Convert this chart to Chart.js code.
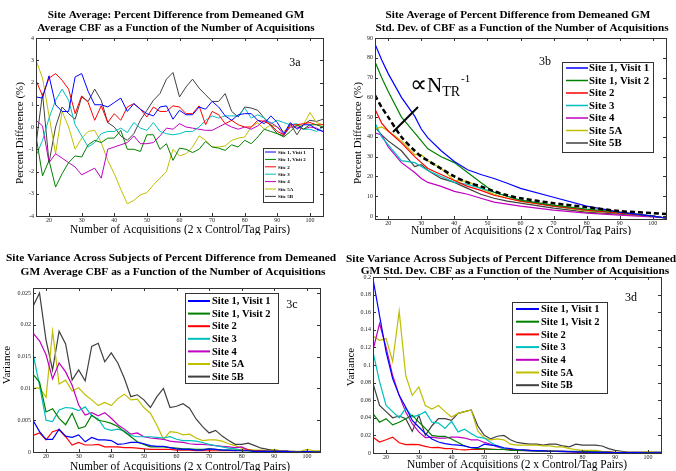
<!DOCTYPE html>
<html>
<head>
<meta charset="utf-8">
<script src="https://cdn.jsdelivr.net/npm/chart.js@4.4.1/dist/chart.umd.min.js"></script>
<style>
  body { margin: 0; background: #fff; }
  #wrap { position: relative; width: 676px; height: 471px; overflow: hidden; }
  canvas { position: absolute; }
</style>
</head>
<body>
<div id="wrap">
  <canvas id="c3a" width="338" height="235" style="left:0;top:0"></canvas>
  <canvas id="c3b" width="338" height="235" style="left:338px;top:0"></canvas>
  <canvas id="c3c" width="338" height="236" style="left:0;top:235px"></canvas>
  <canvas id="c3d" width="338" height="236" style="left:338px;top:235px"></canvas>
</div>
<script>
// number of acquisitions (x axis), shared by 3a, 3c, 3d
const acq = [16,18,20,22,24,26,28,30,32,34,36,38,40,42,44,46,48,50,52,54,56,58,60,62,64,66,68,70,72,74,76,78,80,82,84,86,88,90,92,94,96,98,100,102,104];
const xTicks = [20,30,40,50,60,70,80,90,100];

const sites = ['Site 1, Visit 1', 'Site 1, Visit 2', 'Site 2', 'Site 3', 'Site 4', 'Site 5A', 'Site 5B'];
const siteColors = ['#0000ff', '#008000', '#ff0000', '#00bfbf', '#bf00bf', '#bfbf00', '#404040'];

// 3a - site average, percent difference (%)
const avgV1 = [1.35,1.3,2.3,1.0,0.7,0.7,2.25,2.4,1.6,1.0, 1.0,0.9,1.1,1.3,0.7,1.05,0.8,0.6,0.5,0.9, 0.95,0.35,0.75,0.55,0.55,0.9,0.8,1.15,0.9,0.5, 0.3,0.55,0.6,0.6,0.3,0.15,0.5,0.2,-0.3,0.2, -0.1,0.1,0.1,-0.1,-0.2];
const avgV2 = [-0.4,-2.2,-1.5,-2.7,-2.1,-1.6,-1.3,-1.35,-0.8,-0.6, -0.7,-0.5,-0.5,-0.15,-1.0,-1.0,-1.1,-0.35,-0.35,-1.0, -0.75,-1.5,-0.95,-1.0,-1.15,-1.0,-0.65,-0.9,-0.95,-1.05, -0.8,-0.9,-0.6,-0.75,-0.45,-0.1,-0.2,-0.3,-0.45,-0.2, 0.1,-0.1,0.1,0.1,0.0];
const avgS2 = [2.1,1.4,2.2,2.4,2.1,1.7,0.6,1.4,1.1,0.3, 0.95,0.2,0.6,0.3,0.9,1.05,0.8,0.45,0.9,0.7, 0.7,0.95,0.9,0.6,0.6,0.95,0.1,0.7,0.55,0.15, 0.3,0.1,0.0,0.0,0.3,0.25,0.1,-0.2,-0.35,0.1, 0.1,0.15,0.2,0.1,0.1];
const avgS3 = [-1.3,-0.6,0.4,1.2,1.7,1.2,0.1,-0.4,-0.9,-0.7, -0.3,-0.2,-0.2,-0.05,-0.25,0.2,-0.05,-0.15,0.2,-0.2, -0.3,-0.35,-0.3,-0.2,-0.2,0.0,0.3,0.5,0.4,0.5, 0.5,0.5,0.85,0.4,0.55,0.4,0.15,0.3,0.2,0.1, 0.15,-0.1,-0.1,-0.2,0.0];
const avgS4 = [0.3,0.05,-1.6,-1.2,-1.4,-1.6,-1.8,-2.15,-2.0,-1.85, -2.3,-1.0,-0.9,-0.8,-0.7,-0.4,-0.75,-0.75,-0.7,-0.4, -0.05,-0.1,0.15,0.0,-0.05,-0.1,-0.15,-0.15,0.0,0.15, 0.0,-0.1,0.0,-0.1,0.05,0.3,0.2,0.0,-0.35,0.0, 0.0,-0.1,0.0,-0.05,-0.2];
const avgS5A = [3.0,2.2,0.5,-1.2,0.7,0.0,-1.0,-0.5,-0.2,-0.15, -0.7,-1.5,-2.1,-2.8,-3.45,-3.3,-3.05,-2.95,-2.6,-2.3, -2.0,-1.0,-1.3,-1.2,-0.9,-0.4,-0.6,-0.9,-0.9,-0.85, -0.6,-0.5,-0.45,0.0,0.2,-0.1,0.1,0.0,-0.2,0.0, 0.05,0.1,0.65,0.2,0.1];
const avgS5B = [-0.8,1.5,-1.6,0.0,0.9,0.6,0.35,1.35,1.15,1.7, 1.2,0.2,0.0,-0.4,-0.6,-0.3,0.3,0.75,1.2,1.5, 2.15,2.45,1.35,1.8,2.15,1.75,1.45,1.15,1.15,1.5, 0.7,0.45,0.9,0.85,0.75,0.4,0.05,-0.3,-0.4,0.15, -0.35,0.1,0.3,0.25,0.35];
const avgTicks = [-4,-3,-2,-1,0,1,2,3,4];

// 3b - site average of std. dev. percent difference (%)
const sdX = [16,18,20,24,28,30,32,36,40,44,48,52,56,60,70,80,90,100,104];
const sdV1 = [87,79,72,60,50.5,44,39.5,33,27.6,23.4,21,19,16.6,14,9.5,5,2,0,-1];
const sdV2 = [78,70,63,50,42,38,34,30,27,22,17,12,10,8,5.5,3.5,2,0,-1];
const sdS2 = [54,47,43,37,30,27,24,21,18,15,13,10.5,9,7.5,5,3,1.5,0,-1];
const sdS3 = [47,40,36,28,27,25,23,20,17,16,14,12,10,8,5,3,1.5,0,-1];
const sdS4 = [42,41,35,27,22,19,17,15,12.5,11,9,7,6,5,3,1.5,0.5,-0.5,-1];
const sdS5A = [44,45,43,38,31,31,28,24,18,17.5,14,11,9,7.5,5,2.5,1.5,0,-1];
const sdS5B = [45,41,38,33,25,26,23,19,17,14,11,9,7.5,6.5,4,2,1,0,-1];
const sdFit = [61,55,50,40,33,30,28,24,20,17,15,12.5,10.5,9,6.5,4.5,2.5,1.5,1];
const sdTicks = [0,10,20,30,40,50,60,70,80,90];

// 3c - variance across subjects, average CBF
const varAvgV1 = [0.005,0.0032,0.002,0.002,0.0036,0.0025,0.0023,0.0027,0.0016,0.0023, 0.0019,0.0019,0.0018,0.0012,0.0013,0.0015,0.0015,0.0013,0.001,0.0009, 0.0009,0.0007,0.0005,0.0004,0.0004,0.0003,0.0003,0.0005,0.0004,0.0003, 0.0003,0.0002,0.0002,0.0002,0.0001,0.0001,0.0001,0.0001,0.0001,0.0001, 0,0,0.0001,0,0];
const varAvgV2 = [0.0122,0.011,0.0063,0.0068,0.0053,0.0043,0.0061,0.0037,0.004,0.0058, 0.005,0.0048,0.0045,0.004,0.0032,0.0024,0.0016,0.0012,0.0008,0.0008, 0.0008,0.0007,0.0006,0.0005,0.0005,0.0004,0.0004,0.0005,0.0004,0.0003, 0.0003,0.0003,0.0002,0.0002,0.0001,0.0001,0.0001,0.0001,0.0001,0.0001, 0,0,0.0001,0,0];
const varAvgS2 = [0.0026,0.003,0.0019,0.0032,0.0035,0.0024,0.0011,0.0015,0.0011,0.0011, 0.0012,0.0008,0.0008,0.0008,0.0007,0.0007,0.0006,0.0005,0.0004,0.0004, 0.0004,0.0004,0.0003,0.0003,0.0003,0.0002,0.0002,0.0002,0.0002,0.0002, 0.0002,0.0002,0.0003,0.0003,0.0002,0.0002,0.0001,0.0001,0.0001,0.0001, 0,0,0,0,0];
const varAvgS3 = [0.0155,0.0105,0.005,0.0048,0.0066,0.007,0.0069,0.0065,0.0071,0.0057, 0.0052,0.0037,0.0034,0.0036,0.0033,0.0026,0.0024,0.0024,0.0024,0.0023, 0.0022,0.0024,0.002,0.0018,0.0018,0.0017,0.0015,0.0012,0.001,0.0008, 0.0006,0.0005,0.0003,0.0002,0.0002,0.0001,0.0001,0.0001,0.0001,0, 0,0,0,0,0];
const varAvgS4 = [0.0187,0.0175,0.0153,0.0115,0.014,0.0126,0.0105,0.0074,0.0058,0.0062, 0.0057,0.0062,0.0053,0.0043,0.0036,0.0028,0.003,0.0024,0.0022,0.0021, 0.002,0.0017,0.0016,0.0015,0.0013,0.0012,0.0012,0.0011,0.001,0.0009, 0.0008,0.0007,0.0008,0.0003,0.0002,0.0001,0.0001,0.0001,0.0001,0.0001, 0,0,0,0,0];
const varAvgS5A = [0.01,0.0101,0.0086,0.019,0.0107,0.0113,0.0096,0.0101,0.009,0.0082, 0.0073,0.0078,0.0073,0.0084,0.0091,0.0082,0.0083,0.007,0.0061,0.0042, 0.002,0.0032,0.0031,0.0027,0.0028,0.0022,0.0018,0.0019,0.0019,0.0017, 0.0013,0.001,0.0006,0.0004,0.0003,0.0003,0.0002,0.0004,0.0002,0.0001, 0.0001,0.0001,0.0004,0.0002,0.0002];
const varAvgS5B = [0.0229,0.025,0.0176,0.0129,0.019,0.017,0.0113,0.0129,0.0112,0.0166, 0.0171,0.0142,0.0156,0.014,0.0116,0.0087,0.009,0.0082,0.007,0.0087, 0.01,0.007,0.0072,0.0076,0.0069,0.0052,0.004,0.003,0.0034,0.0025, 0.0018,0.0012,0.0012,0.0014,0.001,0.0006,0.0004,0.0003,0.0001,0.0001, 0.0001,0,0,0,0];
const varAvgTicks = [0,0.005,0.01,0.015,0.02,0.025];

// 3d - variance across subjects, std. dev. CBF
const varSdV1 = [0.198,0.156,0.115,0.0845,0.0655,0.052,0.037,0.0295,0.022,0.016, 0.0125,0.0106,0.0095,0.009,0.008,0.006,0.006,0.01,0.009,0.008, 0.006,0.005,0.004,0.0035,0.003,0.0028,0.0025,0.002,0.002,0.0018, 0.0015,0.0012,0.001,0.001,0.0008,0.0007,0.0006,0.0005,0.0005,0.0004, 0.0004,0.0003,0.0003,0.0003,0.0002];
const varSdV2 = [0.0447,0.035,0.039,0.032,0.035,0.039,0.043,0.035,0.028,0.02, 0.019,0.019,0.016,0.012,0.008,0.006,0.005,0.005,0.004,0.004, 0.004,0.003,0.003,0.003,0.0028,0.0025,0.0025,0.0022,0.002,0.002, 0.002,0.002,0.002,0.0015,0.0012,0.001,0.0008,0.0005,0.0004,0.0003, 0.0003,0.0002,0.0002,0.0002,0.0002];
const varSdS2 = [0.018,0.0125,0.015,0.018,0.0117,0.0095,0.0098,0.0095,0.0076,0.006, 0.0064,0.005,0.005,0.004,0.0035,0.004,0.004,0.0045,0.0045,0.004, 0.004,0.004,0.0035,0.003,0.003,0.0028,0.0025,0.002,0.002,0.0018, 0.0015,0.0012,0.001,0.001,0.0008,0.0007,0.0006,0.0005,0.0005,0.0004, 0.0004,0.0003,0.0003,0.0003,0.0003];
const varSdS3 = [0.115,0.081,0.054,0.047,0.04,0.051,0.041,0.043,0.047,0.035, 0.034,0.028,0.036,0.024,0.027,0.022,0.018,0.017,0.012,0.008, 0.005,0.004,0.003,0.003,0.0028,0.0025,0.0022,0.002,0.0018,0.0016, 0.0014,0.0012,0.001,0.0009,0.0008,0.0006,0.0005,0.0004,0.0003,0.0003, 0.0002,0.0002,0.0002,0.0002,0.0002];
const varSdS4 = [0.117,0.147,0.12,0.088,0.0655,0.0466,0.0333,0.024,0.0174,0.018, 0.017,0.017,0.018,0.018,0.017,0.015,0.015,0.012,0.01,0.007, 0.005,0.004,0.003,0.0028,0.0025,0.0022,0.002,0.002,0.0018,0.0016, 0.0014,0.0012,0.001,0.0009,0.0008,0.0007,0.0006,0.0005,0.0004,0.0004, 0.0003,0.0003,0.0003,0.0002,0.0002];
const varSdS5A = [0.133,0.128,0.13,0.104,0.161,0.088,0.0655,0.075,0.054,0.05, 0.054,0.047,0.041,0.045,0.047,0.049,0.025,0.017,0.015,0.016, 0.015,0.01,0.009,0.009,0.009,0.009,0.008,0.008,0.007,0.007, 0.005,0.004,0.003,0.003,0.003,0.002,0.0015,0.001,0.0008,0.0006, 0.0005,0.0005,0.0015,0.0008,0.0005];
const varSdS5B = [0.079,0.054,0.047,0.04,0.042,0.039,0.0246,0.043,0.02,0.031, 0.039,0.039,0.037,0.045,0.047,0.049,0.031,0.02,0.016,0.019, 0.02,0.015,0.012,0.011,0.01,0.01,0.009,0.01,0.01,0.008, 0.007,0.01,0.009,0.009,0.009,0.008,0.005,0.003,0.002,0.001, 0.001,0.001,0.001,0.001,0.001];
const varSdTicks = [0,0.02,0.04,0.06,0.08,0.1,0.12,0.14,0.16,0.18,0.2];

const serif = "'Liberation Serif', 'Times New Roman', serif";
const xLabelText = 'Number of Acquisitions (2 x Control/Tag Pairs)';

function pts(xs, ys) {
    return xs.map((x, i) => ({x: x, y: ys[i]}));
}

function siteSets(xs, series, width) {
    return series.map((ys, i) => ({
        label: sites[i],
        data: pts(xs, ys),
        borderColor: siteColors[i],
        borderWidth: width,
        pointRadius: 0,
        tension: 0,
        order: 1
    }));
}

// frame, inward ticks, titles, legend (matlab look)
function makeDeco(p) {
    return {
        id: 'deco',
        afterDraw(chart) {
            const ctx = chart.ctx;
            const a = chart.chartArea;
            const sx = chart.scales.x, sy = chart.scales.y;
            ctx.save();
            ctx.strokeStyle = '#333';
            ctx.lineWidth = 1;
            ctx.strokeRect(Math.round(a.left) + 0.5, Math.round(a.top) + 0.5, Math.round(a.width), Math.round(a.height));
            ctx.beginPath();
            sx.ticks.forEach(t => {
                const px = Math.round(sx.getPixelForValue(t.value)) + 0.5;
                ctx.moveTo(px, a.bottom); ctx.lineTo(px, a.bottom - 3);
                ctx.moveTo(px, a.top); ctx.lineTo(px, a.top + 3);
            });
            sy.ticks.forEach(t => {
                const py = Math.round(sy.getPixelForValue(t.value)) + 0.5;
                ctx.moveTo(a.left, py); ctx.lineTo(a.left + 3, py);
                ctx.moveTo(a.right, py); ctx.lineTo(a.right - 3, py);
            });
            ctx.stroke();

            ctx.fillStyle = '#000';
            ctx.textAlign = 'center';
            ctx.textBaseline = 'middle';
            ctx.font = 'bold ' + p.titleSize + 'px ' + serif;
            p.title.forEach((s, i) => ctx.fillText(s, p.titleX[i], p.titleY[i]));

            ctx.font = p.xLabelSize + 'px ' + serif;
            ctx.fillText(xLabelText, p.xLabel[0], p.xLabel[1]);

            ctx.save();
            ctx.translate(p.yLabel[0], p.yLabel[1]);
            ctx.rotate(-Math.PI / 2);
            ctx.font = p.yLabelSize + 'px ' + serif;
            ctx.fillText(p.yText, 0, 0);
            ctx.restore();

            ctx.font = p.tagSize + 'px ' + serif;
            ctx.fillText(p.tag, p.tagPos[0], p.tagPos[1]);

            // legend box
            const L = p.legend;
            ctx.fillStyle = '#fff';
            ctx.fillRect(L.x, L.y, L.w, L.h);
            ctx.strokeStyle = '#333';
            ctx.lineWidth = 1;
            ctx.strokeRect(L.x + 0.5, L.y + 0.5, L.w, L.h);
            ctx.textAlign = 'left';
            ctx.font = 'bold ' + L.size + 'px ' + serif;
            let row = 0;
            chart.data.datasets.forEach(ds => {
                if (ds.order !== 1) return;
                const ry = L.row0 + row * L.step;
                ctx.strokeStyle = ds.borderColor;
                ctx.lineWidth = L.lw;
                ctx.beginPath();
                ctx.moveTo(L.line[0], ry); ctx.lineTo(L.line[1], ry);
                ctx.stroke();
                ctx.fillStyle = '#000';
                ctx.fillText(ds.label, L.textX, ry + 0.5);
                row++;
            });
            ctx.restore();
        }
    };
}

// "proportional to N_TR^-1" note with pointer, panel 3b only
const propNote = {
    id: 'propNote',
    afterDraw(chart) {
        const ctx = chart.ctx;
        ctx.save();
        ctx.fillStyle = '#000';
        ctx.textBaseline = 'alphabetic';
        ctx.textAlign = 'left';
        ctx.font = '24px ' + serif;
        ctx.fillText('\u221d', 72, 92);
        let w = ctx.measureText('\u221d').width;
        ctx.font = '21px ' + serif;
        ctx.fillText('N', 72 + w, 92);
        w += ctx.measureText('N').width;
        ctx.font = '14px ' + serif;
        ctx.fillText('TR', 72 + w, 96);
        const w2 = ctx.measureText('TR').width;
        ctx.font = '11px ' + serif;
        ctx.fillText('-1', 73 + w + w2, 82);
        ctx.strokeStyle = '#000';
        ctx.lineWidth = 2;
        ctx.beginPath();
        ctx.moveTo(80, 107);
        ctx.lineTo(55, 132);
        ctx.stroke();
        ctx.restore();
    }
};

// scale boxes get fixed sizes so the plot area lands where the figure has it
function axisOpts(ticks, min, max, pad, size, isX) {
    return {
        type: 'linear',
        min: min,
        max: max,
        grid: {display: false, drawTicks: false},
        border: {display: false},
        afterBuildTicks: s => { s.ticks = ticks.map(v => ({value: v})); },
        afterFit: s => { if (isX) s.height = size; else s.width = size; },
        ticks: {
            autoSkip: false,
            maxRotation: 0,
            padding: pad,
            color: '#222',
            font: {family: serif, size: 6},
            callback: v => String(Number(v.toFixed(4)))
        }
    };
}

function makeChart(id, datasets, xr, yr, yTicks, area, deco, extra) {
    return new Chart(document.getElementById(id), {
        type: 'line',
        data: {datasets: datasets},
        options: {
            responsive: false,
            animation: false,
            events: [],
            layout: {padding: {left: 0, bottom: 0, top: area.top, right: area.right}, autoPadding: false},
            plugins: {legend: {display: false}, tooltip: {enabled: false}, title: {display: false}},
            scales: {
                x: axisOpts(xTicks, xr[0], xr[1], 1, area.bottom, true),
                y: axisOpts(yTicks, yr[0], yr[1], 2, area.left, false)
            }
        },
        plugins: [makeDeco(deco)].concat(extra || [])
    });
}

// 3a
makeChart('c3a',
    siteSets(acq, [avgV1, avgV2, avgS2, avgS3, avgS4, avgS5A, avgS5B], 1),
    [16, 104], [-4, 4], avgTicks,
    {left: 36, top: 38, right: 15, bottom: 19},
    {
        title: ['Site Average: Percent Difference from Demeaned GM', 'Average CBF as a Function of the Number of Acquisitions'],
        titleX: [176, 176], titleY: [15, 28], titleSize: 11.2,
        xLabel: [180, 230], xLabelSize: 11.5,
        yText: 'Percent Difference (%)', yLabel: [20, 133], yLabelSize: 11,
        tag: '3a', tagPos: [295, 63], tagSize: 12,
        legend: {x: 263, y: 148, w: 50, h: 54, row0: 152, step: 7.4, line: [265, 276], textX: 278, size: 5, lw: 1}
    });

// 3b
const sbSets = siteSets(sdX, [sdV1, sdV2, sdS2, sdS3, sdS4, sdS5A, sdS5B], 1.2);
sbSets.push({
    label: 'fit',
    data: pts(sdX, sdFit),
    borderColor: '#000',
    borderWidth: 2.5,
    borderDash: [5, 3],
    pointRadius: 0,
    tension: 0.3,
    order: 0
});
makeChart('c3b', sbSets,
    [16, 104], [-1.5, 90], sdTicks,
    {left: 37, top: 38, right: 10, bottom: 16},
    {
        title: ['Site Average of Percent Difference from Demeaned GM', 'Std. Dev. of CBF as a Function of the Number of Acquisitions'],
        titleX: [180, 184], titleY: [15, 28], titleSize: 11.2,
        xLabel: [183, 231], xLabelSize: 11.5,
        yText: 'Percent Difference (%)', yLabel: [20, 133], yLabelSize: 11,
        tag: '3b', tagPos: [207, 62], tagSize: 12,
        legend: {x: 224, y: 62, w: 91, h: 90, row0: 68, step: 12.5, line: [228, 250], textX: 251, size: 10.8, lw: 1.5}
    }, [propNote]);

// 3c
makeChart('c3c',
    siteSets(acq, [varAvgV1, varAvgV2, varAvgS2, varAvgS3, varAvgS4, varAvgS5A, varAvgS5B], 1.2),
    [16, 104], [0, 0.0258], varAvgTicks,
    {left: 33, top: 53, right: 18, bottom: 19},
    {
        title: ['Site Variance Across Subjects of Percent Difference from Demeaned', 'GM Average CBF as a Function of the Number of Acquisitions'],
        titleX: [171, 173], titleY: [23, 37], titleSize: 11.4,
        xLabel: [180, 232], xLabelSize: 11.5,
        yText: 'Variance', yLabel: [7, 130], yLabelSize: 11,
        tag: '3c', tagPos: [292, 70], tagSize: 12,
        legend: {x: 185, y: 58, w: 93, h: 90, row0: 66, step: 12.6, line: [188, 210], textX: 212, size: 10.5, lw: 2}
    });

// 3d
makeChart('c3d',
    siteSets(acq, [varSdV1, varSdV2, varSdS2, varSdS3, varSdS4, varSdS5A, varSdS5B], 1.2),
    [16, 104], [0, 0.2], varSdTicks,
    {left: 35, top: 42, right: 15, bottom: 18},
    {
        title: ['Site Variance Across Subjects of Percent Difference from Demeaned', 'GM Std. Dev. CBF as a Function of the Number of Acquisitions'],
        titleX: [173, 177], titleY: [24, 36], titleSize: 11.4,
        xLabel: [179, 230], xLabelSize: 11.5,
        yText: 'Variance', yLabel: [13, 132], yLabelSize: 11,
        tag: '3d', tagPos: [293, 63], tagSize: 12,
        legend: {x: 174, y: 67, w: 95, h: 91, row0: 74, step: 12.7, line: [178, 201], textX: 203, size: 10.5, lw: 2}
    });
</script>
</body>
</html>
